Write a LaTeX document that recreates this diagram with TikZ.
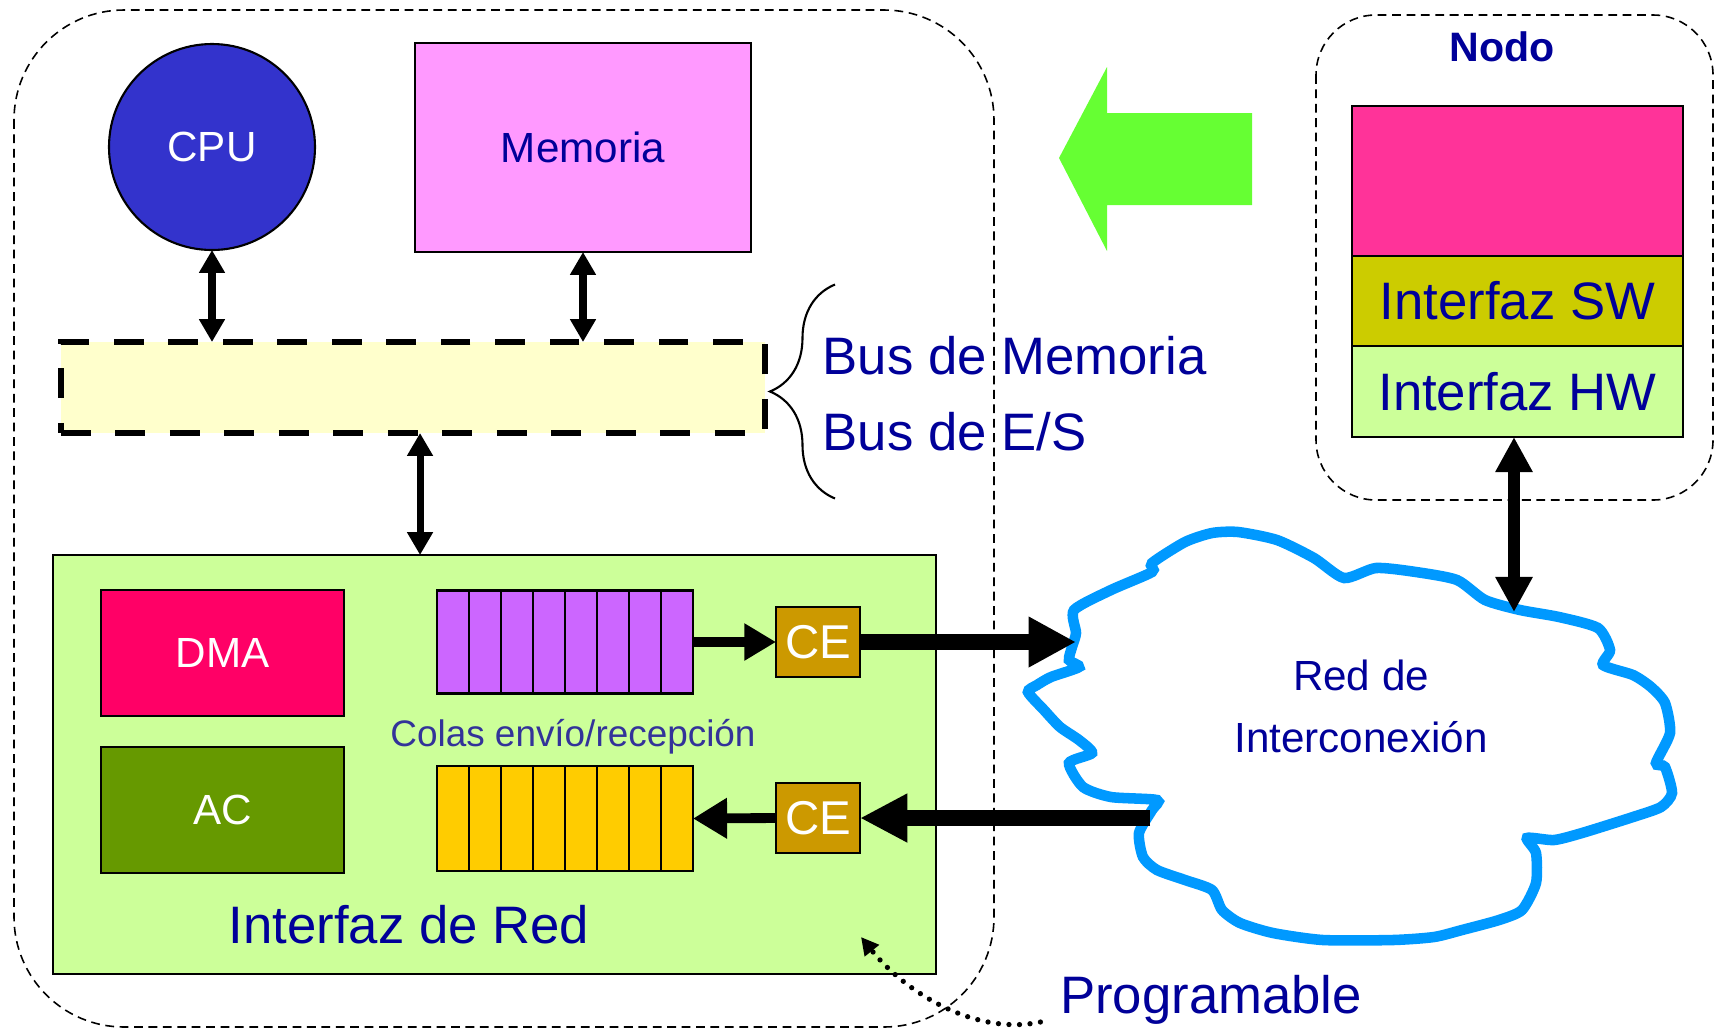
\documentclass[tikz,border=0pt]{standalone}
\usepackage{fontspec}
\setmainfont{Liberation Sans}
\usepackage{tikz}
\usepackage{xcolor}
\usetikzlibrary{arrows.meta,calc,decorations.pathreplacing}

\definecolor{tblue}{HTML}{000099}
\definecolor{qblue}{HTML}{333399}
\definecolor{cpublue}{HTML}{3333CC}
\definecolor{mempink}{HTML}{FF99FF}
\definecolor{busyel}{HTML}{FFFFCC}
\definecolor{nicgreen}{HTML}{CCFF99}
\definecolor{dmared}{HTML}{FF0066}
\definecolor{acgreen}{HTML}{669900}
\definecolor{txpurple}{HTML}{CC66FF}
\definecolor{rxyellow}{HTML}{FFCC00}
\definecolor{cebrown}{HTML}{CC9900}
\definecolor{arrowgreen}{HTML}{66FF33}
\definecolor{apppink}{HTML}{FF3399}
\definecolor{swolive}{HTML}{CCCC00}
\definecolor{netblue}{HTML}{0099FF}

\begin{document}
\begin{tikzpicture}[x=0.1mm, y=-0.1mm,
    box/.style={draw, line width=0.6pt, inner sep=0pt, outer sep=0pt},
    txt/.style={inner sep=0pt, text=tblue},
    thindash/.style={line width=0.45pt, dash pattern=on 2.5pt off 1.6pt},
    dbl/.style={line width=2pt, {Triangle[length=6.5pt,width=7pt]}-{Triangle[length=6.5pt,width=7pt]}},
    f12/.style={font=\fontsize{12}{14}\selectfont},
    f15/.style={font=\fontsize{15}{18}\selectfont}]
    \useasboundingbox (0,0) rectangle (1716,1029);

    % Computer node
    \draw[thindash, rounded corners=11mm] (14,10) rectangle (994,1027);

    \node[box, circle, fill=cpublue, minimum size=20.6mm, text=white, f12] (cpu) at (212,147) {CPU};
    \node[box, fill=mempink, minimum width=33.6mm, minimum height=20.9mm, text=tblue, f12] (mem) at (583,147.5) {Memoria};
    \node[draw, line width=1.8pt, dash pattern=on 8.5pt off 7pt, fill=busyel, minimum width=70.4mm, minimum height=9.1mm, inner sep=0pt, outer sep=0pt] (bus) at (413,387.5) {};

    % Buses
    \draw[line width=0.6pt, decorate, decoration={brace, amplitude=6.5mm}] ([shift={(70,111)}]bus.east) -- ([shift={(70,-103)}]bus.east);
    \node[txt, f15, anchor=west] (busmem) at (822,356) {Bus de Memoria};
    \node[txt, f15, anchor=west] (buses) at (822,432) {Bus de E/S};

    % Network interface
    \node[box, fill=nicgreen, minimum width=88.3mm, minimum height=41.9mm] (red) at (494.5,764.5) {};
    \node[box, fill=dmared, minimum width=24.3mm, minimum height=12.6mm, text=white, f12] (dma) at (222.5,653) {DMA};
    \node[box, fill=acgreen, minimum width=24.3mm, minimum height=12.6mm, text=white, f12] (ac) at (222.5,810) {AC};
    \node[box, fill=txpurple, minimum width=25.6mm, minimum height=10.3mm] (txq) at (565,642) {};
    \node[box, fill=rxyellow, minimum width=25.6mm, minimum height=10.5mm] (rxq) at (565,818.5) {};
    \foreach \q in {txq,rxq}
        \foreach \i in {1,...,7}
            \draw[line width=0.6pt] ($(\q.north west)!\i/8!(\q.north east)$) -- ($(\q.south west)!\i/8!(\q.south east)$);
    \node[box, fill=cebrown, minimum width=8.4mm, minimum height=7mm, text=white, font=\fontsize{13.5}{16}\selectfont] (cetx) at (818,642) {CE};
    \node[box, fill=cebrown, minimum width=8.4mm, minimum height=7mm, text=white, font=\fontsize{13.5}{16}\selectfont] (cerx) at (818,818) {CE};
    \node[inner sep=0pt, text=qblue, font=\fontsize{10.5}{12}\selectfont, anchor=base] (colas) at (573,746) {Colas envío/recepción};
    \node[txt, f15] (nicname) at (409,925) {Interfaz de Red};
    \node[txt, f15, anchor=base] (prog) at (1211,1013) {Programable};

    % Node stack
    \draw[thindash, rounded corners=6mm] (1316,15) rectangle (1713,500);
    \node[txt, font=\fontsize{11.7}{14}\selectfont\bfseries] (nodo) at (1502,47) {Nodo};
    \node[box, fill=apppink, minimum width=33.1mm, minimum height=15mm] (app) at (1517.5,181) {};
    \node[box, fill=swolive, minimum width=33.1mm, minimum height=9mm, text=tblue, f15] (sw) at (1517.5,301) {Interfaz SW};
    \node[box, fill=nicgreen, minimum width=33.1mm, minimum height=9.1mm, text=tblue, f15] (hw) at (1517.5,391.5) {Interfaz HW};

    % Green arrow
    \fill[arrowgreen] (1059,158) -- (1107,67) -- (1107,113) -- (1252,113) -- (1252,205) -- (1107,205) -- (1107,251) -- cycle;

    % Interconnection network
    \draw[netblue, line width=3pt, fill=white] plot[smooth cycle, tension=0.4] coordinates {
        (1074,610) (1111,590) (1152,572) (1152,563) (1185,542) (1212,533) (1238,532)
        (1277,540) (1314,558) (1344,578) (1376,568) (1416,572) (1457,580) (1485,600)
        (1520,610) (1559,617) (1598,628) (1610,650) (1603,665) (1633,675) (1651,687)
        (1665,703) (1670,733) (1656,763) (1665,767) (1672,793) (1661,807) (1633,817)
        (1582,833) (1554,840) (1527,838) (1536,853) (1536,883) (1522,910) (1499,920)
        (1462,930) (1434,937) (1393,940) (1323,940) (1273,933) (1240,923) (1222,910)
        (1212,890) (1185,880) (1157,870) (1143,857) (1139,833) (1152,810) (1157,800)
        (1111,797) (1083,787) (1069,763) (1092,753) (1079,740) (1060,727) (1044,710)
        (1028,692) (1037,685) (1051,677) (1079,667) (1069,660) (1072,647) (1076,633)};
    \node[txt, align=center, font=\fontsize{12}{17.6}\selectfont] (net) at (1361,706) {Red de\\Interconexión};
    \coordinate (netin) at (1076,642);
    \coordinate (netout) at (1150,818);
    \coordinate (nettop) at (1514,612);

    % Connections
    \draw[dbl] (cpu.south) -- (cpu.south |- bus.north);
    \draw[dbl] (mem.south) -- (mem.south |- bus.north);
    \coordinate (busio) at ([xshift=2pt]bus.south);
    \draw[dbl] (busio) -- (busio |- red.north);
    \draw[line width=2.8pt, -{Triangle[length=9pt,width=10pt]}] (txq.east) -- (cetx.west);
    \draw[line width=4.3pt, -{Triangle[length=13.5pt,width=13.5pt]}] (cetx.east) -- (netin);
    \draw[line width=4.3pt, -{Triangle[length=13.5pt,width=13pt]}] (netout) -- (cerx.east);
    \draw[line width=2.8pt, -{Triangle[length=9.7pt,width=11pt]}] (cerx.west) -- (rxq.east);
    \draw[line width=3.4pt, {Triangle[length=10pt,width=10pt]}-{Triangle[length=10pt,width=10pt]}] (nettop |- hw.south) -- (nettop);
    \draw[line width=1.5pt, dash pattern=on 0pt off 3pt, line cap=round, -{Triangle[length=5pt,width=5pt]}]
        ([shift={(-19,9)}]prog.base west) .. controls (975,1036) and (905,992) .. ([shift={(-75,-37)}]red.south east);
\end{tikzpicture}
\end{document}
